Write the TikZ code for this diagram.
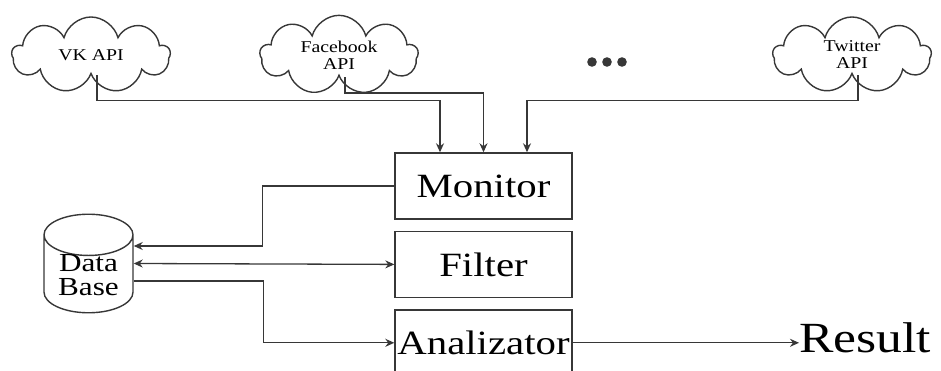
\documentclass[tikz,border=0pt]{standalone}
\usepackage{fontspec}
\setmainfont{Liberation Serif}
\newfontfamily\wideserif[FakeStretch=1.2]{Liberation Serif}
\usetikzlibrary{positioning,arrows.meta,shapes.symbols,shapes.geometric}
\definecolor{LineGrey}{RGB}{55,55,55}

\tikzset{
  apicloud/.style={cloud, draw=LineGrey, line width=1.4pt, cloud puffs=9, aspect=2.1,
    minimum width=158pt, minimum height=76pt, inner sep=1pt,
    font=\wideserif\fontsize{16.5}{17}\selectfont},
  stagebox/.style={draw=LineGrey, line width=1.4pt, minimum width=177pt, minimum height=66pt,
    inner sep=0pt, font=\wideserif\fontsize{34}{38}\selectfont},
  link/.style={draw=LineGrey, line width=1.3pt}
}

\begin{document}
\begin{tikzpicture}[x=1pt, y=-1pt, node distance=11pt, every node/.style={align=center},
  >={Stealth[length=9pt,width=8pt]}]
  \useasboundingbox (0,0) rectangle (941,371);
  % sources
  \node[apicloud] (vk) at (91,55) {VK API};
  \node[apicloud] (fb) at (339,55) {Facebook\\API};
  \node[apicloud] (tw) at (852,55) {Twitter\\API};
  \foreach \i in {0,1,2}
    \fill[LineGrey] (592+15*\i,62) circle (4.8pt);
  % processing chain
  \node[stagebox] (mon) at (483.5,186) {Monitor};
  \node[stagebox, below=of mon] (flt) {Filter};
  \node[stagebox, below=of flt] (ana) {Analizator};
  \node[cylinder, shape border rotate=90, draw=LineGrey, line width=1.4pt, aspect=0.68,
    minimum width=89pt, minimum height=89pt, inner sep=0pt, anchor=shape center,
    font=\wideserif\fontsize{26}{24}\selectfont] (db) at (88.5,263.5)
    {\raisebox{-11pt}[18pt][18pt]{\begin{tabular}{@{}c@{}}Data\\Base\end{tabular}}};
  \coordinate (dbmid) at (db.shape center -| db.east);
  \node[anchor=west, inner sep=0pt, font=\wideserif\fontsize{43}{46}\selectfont] (res) at (799,338) {Result};
  % api feeds
  \draw[link, ->] ([xshift=6pt]vk.south) -- ++(0,25) -| ([xshift=-43.5pt]mon.north);
  \draw[link, ->] ([xshift=6pt]fb.south) -- ++(0,16) -| (mon.north);
  \draw[link, ->] ([xshift=6pt]tw.south) -- ++(0,25) -| ([xshift=43.5pt]mon.north);
  % storage
  \draw[link, ->] (mon.west) -- ++(-132,0) |- ([yshift=17.5pt]dbmid);
  \draw[link, <->] (dbmid) -- (flt.west);
  \draw[link, ->] ([yshift=-17.5pt]dbmid) -- ++(130,0) |- (ana.west);
  \draw[link, ->] (ana.east) -- (ana.east -| res.west);
\end{tikzpicture}
\end{document}
